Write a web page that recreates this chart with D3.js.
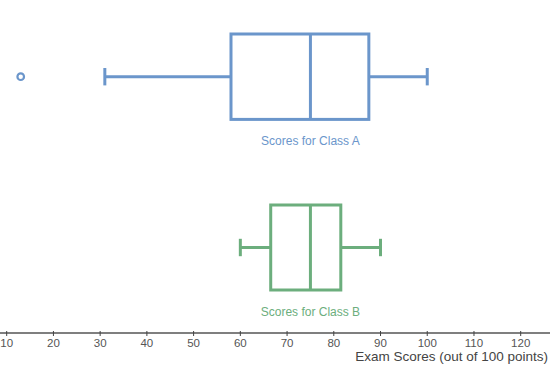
<!DOCTYPE html>
<html lang="en">
<head>
    <meta charset="UTF-8">
    <title>Exam scores box plot</title>
    <style>
        body { margin: 0; background: #fff; }
        text { font-family: "Liberation Sans", Arial, sans-serif; }
    </style>
    <script src="https://cdn.jsdelivr.net/npm/d3@7"></script>
</head>
<body>
<script>
    // Data
    const classes = ["Scores for Class A", "Scores for Class B"];
    const whiskerLow = [31, 60];
    const q1 = [58, 66.5];
    const medians = [75, 75];
    const q3 = [87.5, 81.5];
    const whiskerHigh = [100, 90];
    const outliers = [[13], []];
    const colors = ["#6b96cb", "#6cae7d"];
    const tickValues = [10, 20, 30, 40, 50, 60, 70, 80, 90, 100, 110, 120];

    const width = 550, height = 371;
    const axisY = 333;

    const svg = d3.select("body").append("svg")
        .attr("width", width)
        .attr("height", height);

    // x scale: 10 -> 6.7px, 120 -> 520px
    const x = d3.scaleLinear()
        .domain([10, 120])
        .range([6.7, 520.7]);

    // y positions of each box (center), box half-height
    const y = d3.scalePoint()
        .domain(classes)
        .range([76.7, 247.5]);
    const boxHalf = [42.7, 42.5];
    const capHalf = 8.7;

    classes.forEach((c, i) => {
        const g = svg.append("g")
            .attr("stroke", colors[i])
            .attr("stroke-width", 3)
            .attr("fill", "none");
        const cy = y(c);

        // whiskers
        g.append("line")
            .attr("x1", x(whiskerLow[i])).attr("x2", x(q1[i]))
            .attr("y1", cy).attr("y2", cy);
        g.append("line")
            .attr("x1", x(q3[i])).attr("x2", x(whiskerHigh[i]))
            .attr("y1", cy).attr("y2", cy);
        // caps
        [whiskerLow[i], whiskerHigh[i]].forEach(v => {
            g.append("line")
                .attr("x1", x(v)).attr("x2", x(v))
                .attr("y1", cy - capHalf).attr("y2", cy + capHalf);
        });
        // box
        g.append("rect")
            .attr("x", x(q1[i]))
            .attr("y", cy - boxHalf[i])
            .attr("width", x(q3[i]) - x(q1[i]))
            .attr("height", boxHalf[i] * 2);
        // median
        g.append("line")
            .attr("x1", x(medians[i])).attr("x2", x(medians[i]))
            .attr("y1", cy - boxHalf[i]).attr("y2", cy + boxHalf[i]);
        // outliers
        g.selectAll("circle")
            .data(outliers[i])
            .join("circle")
            .attr("cx", d => x(d))
            .attr("cy", cy)
            .attr("r", 3.3)
            .attr("stroke-width", 2.2);

        // label under the box
        svg.append("text")
            .attr("x", x(medians[i]))
            .attr("y", cy + boxHalf[i] + 26)
            .attr("text-anchor", "middle")
            .attr("fill", colors[i])
            .attr("font-size", "12px")
            .text(c);
    });

    // x axis
    const axis = svg.append("g")
        .attr("transform", `translate(0, ${axisY})`);
    axis.append("line")
        .attr("x1", 0).attr("x2", width)
        .attr("stroke", "#555")
        .attr("stroke-width", 1.5);
    axis.selectAll("line.tick")
        .data(tickValues)
        .join("line")
        .attr("class", "tick")
        .attr("x1", d => x(d)).attr("x2", d => x(d))
        .attr("y1", -2).attr("y2", 3)
        .attr("stroke", "#444")
        .attr("stroke-width", 1);
    axis.selectAll("text")
        .data(tickValues)
        .join("text")
        .attr("x", d => x(d))
        .attr("y", 14)
        .attr("text-anchor", "middle")
        .attr("fill", "#555")
        .attr("font-size", "11.5px")
        .text(d => d);

    svg.append("text")
        .attr("x", 548)
        .attr("y", 361)
        .attr("text-anchor", "end")
        .attr("fill", "#444")
        .attr("font-size", "13.5px")
        .text("Exam Scores (out of 100 points)");
</script>
</body>
</html>
